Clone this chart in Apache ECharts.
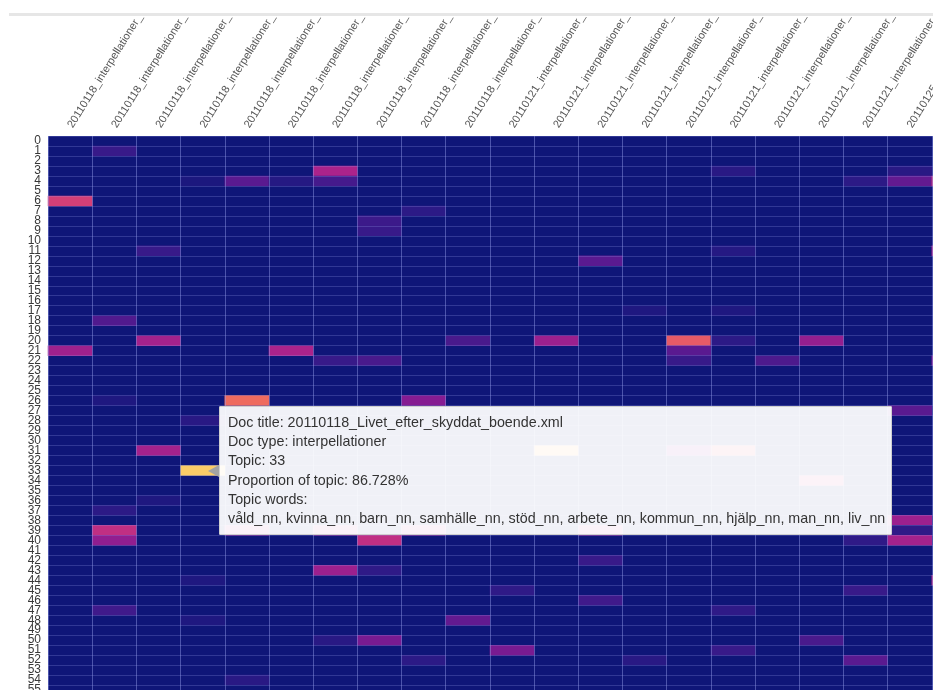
<!DOCTYPE html>
<html>
<head>
<meta charset="utf-8">
<script src="https://cdn.jsdelivr.net/npm/echarts@6/dist/echarts.min.js"></script>
<style>
html, body { margin: 0; padding: 0; background: #fff; overflow: hidden; width: 933px; height: 690px; }
#topline { position: absolute; left: 9px; top: 13px; width: 924px; height: 0; border-top: 3px solid #e6e6e6; }
#heat { position: absolute; left: 0; top: 17px; width: 1000px; height: 740px; }
</style>
</head>
<body>
<div id="topline"></div>
<div id="heat"></div>
<script>
// documents (columns)
var docDates = ['20110118','20110118','20110118','20110118','20110118','20110118','20110118',
    '20110118','20110118','20110118','20110121','20110121','20110121','20110121','20110121',
    '20110121','20110121','20110121','20110121','20110125','20110125'];
var docTitles = ['dok_01','dok_02','dok_03','Livet_efter_skyddat_boende','dok_05','dok_06','dok_07',
    'dok_08','dok_09','dok_10','dok_11','dok_12','dok_13','dok_14','dok_15',
    'dok_16','dok_17','dok_18','dok_19','dok_20','dok_21'];
var docType = 'interpellationer';

// topics (rows)
var topics = [];
for (var t = 0; t < 60; t++) topics.push(String(t));

// [doc, topic, proportion] - cells not listed are ~0
var cells = [
    [1,1,0.12],
    [6,3,0.40],[15,3,0.08],[19,3,0.08],
    [3,4,0.04],[4,4,0.20],[5,4,0.07],[6,4,0.15],[18,4,0.09],[19,4,0.22],[20,4,0.50],
    [0,6,0.55],
    [8,7,0.09],
    [7,8,0.13],
    [7,9,0.12],
    [2,11,0.12],[15,11,0.07],[20,11,0.40],
    [12,12,0.20],
    [13,17,0.05],[15,17,0.05],
    [1,18,0.18],
    [2,20,0.38],[9,20,0.16],[11,20,0.36],[14,20,0.65],[15,20,0.09],[17,20,0.34],
    [0,21,0.37],[5,21,0.40],[14,21,0.20],
    [6,22,0.12],[7,22,0.16],[14,22,0.12],[16,22,0.17],[20,22,0.30],
    [1,26,0.05],[4,26,0.70],[8,26,0.30],
    [19,27,0.20],
    [3,28,0.08],
    [2,31,0.38],[11,31,0.80],[14,31,0.30],[15,31,0.60],
    [3,33,0.86728],
    [17,34,0.50],
    [2,36,0.05],
    [1,37,0.09],
    [19,38,0.36],
    [1,39,0.47],[4,39,0.40],[6,39,0.40],[8,39,0.40],[12,39,0.40],[19,39,0.10],
    [1,40,0.33],[7,40,0.47],[18,40,0.10],[19,40,0.38],
    [12,42,0.12],
    [6,43,0.36],[7,43,0.10],
    [3,44,0.05],[20,44,0.45],
    [10,45,0.10],[18,45,0.12],
    [12,46,0.14],
    [1,47,0.14],[15,47,0.10],
    [3,48,0.05],[9,48,0.22],
    [6,50,0.08],[7,50,0.27],[17,50,0.16],
    [10,51,0.27],[15,51,0.12],
    [8,52,0.09],[13,52,0.08],[18,52,0.20],
    [4,54,0.08]
];

var topicWords = {
    33: ['våld_nn','kvinna_nn','barn_nn','samhälle_nn','stöd_nn','arbete_nn','kommun_nn','hjälp_nn','man_nn','liv_nn']
};

var colorScale = ['#0f1678','#2f1a87','#5a1a90','#861c92','#ab238b','#c93480',
    '#dc4a6e','#ee6b5f','#f7a35c','#fde06e','#f0f921'];

var docLabels = docDates.map(function (d, i) { return d + '_' + docType + '_' + docTitles[i]; });

var myChart = echarts.init(document.getElementById('heat'));
var option = {
    animation: false,
    grid: {
        left: 48, top: 119, width: 928, height: 599,
        containLabel: false, outerBoundsMode: 'none',
        show: true, backgroundColor: colorScale[0], borderWidth: 0
    },
    xAxis: {
        type: 'category',
        position: 'top',
        data: docLabels,
        z: 5,
        axisLine: { show: false },
        axisTick: { show: false },
        axisLabel: {
            interval: 0, rotate: -58, margin: 9,
            fontSize: 11, color: '#555', fontFamily: 'Liberation Sans'
        },
        splitLine: { show: true, lineStyle: { color: 'rgba(150,160,235,0.45)', width: 1 } }
    },
    yAxis: {
        type: 'category',
        inverse: true,
        data: topics,
        z: 5,
        axisLine: { show: false },
        axisTick: { show: false },
        axisLabel: {
            interval: 0, margin: 7,
            fontSize: 12, color: '#383838', fontFamily: 'Liberation Sans'
        },
        splitLine: { show: true, lineStyle: { color: 'rgba(150,160,235,0.25)', width: 1 } }
    },
    visualMap: {
        show: false, type: 'continuous', min: 0, max: 1, dimension: 2,
        inRange: { color: colorScale }
    },
    tooltip: {
        trigger: 'item',
        alwaysShowContent: true,
        transitionDuration: 0,
        backgroundColor: 'rgba(255,255,255,0.94)',
        borderColor: '#cfcfcf',
        borderWidth: 1,
        padding: [6, 6, 6, 8],
        extraCssText: 'box-shadow:none;border-radius:1px;overflow:visible;',
        position: function (point, params, dom, rect, size) {
            if (!rect) return [point[0] + 10, point[1] - size.contentSize[1] / 2];
            return [rect.x + rect.width - 6, rect.y + rect.height / 2 - size.contentSize[1] / 2];
        },
        formatter: function (p) {
            var col = p.value[0], row = p.value[1];
            var words = topicWords[row] ? topicWords[row].join(', ') : '';
            var lines = [
                'Doc title: ' + docDates[col] + '_' + docTitles[col] + '.xml',
                'Doc type: ' + docType,
                'Topic: ' + topics[row],
                'Proportion of topic: ' + (p.value[2] * 100).toFixed(3) + '%',
                'Topic words:',
                words
            ];
            return '<div style="position:absolute;left:-12px;top:50%;margin-top:-6px;width:0;height:0;' +
                'border-top:6px solid transparent;border-bottom:6px solid transparent;border-right:11px solid #a3a3a3;"></div>' +
                '<div style="font-family:\'Liberation Sans\',Arial,sans-serif;font-size:14.3px;line-height:19.2px;color:#333;white-space:nowrap;">' +
                lines.join('<br>') + '</div>';
        }
    },
    series: [{
        name: 'topics',
        type: 'heatmap',
        data: cells,
        itemStyle: { borderWidth: 0 },
        emphasis: { disabled: true }
    }]
};
myChart.setOption(option);

var hoverIndex = 0;
cells.forEach(function (c, i) { if (c[0] === 3 && c[1] === 33) hoverIndex = i; });
myChart.dispatchAction({ type: 'showTip', seriesIndex: 0, dataIndex: hoverIndex });
</script>
</body>
</html>
